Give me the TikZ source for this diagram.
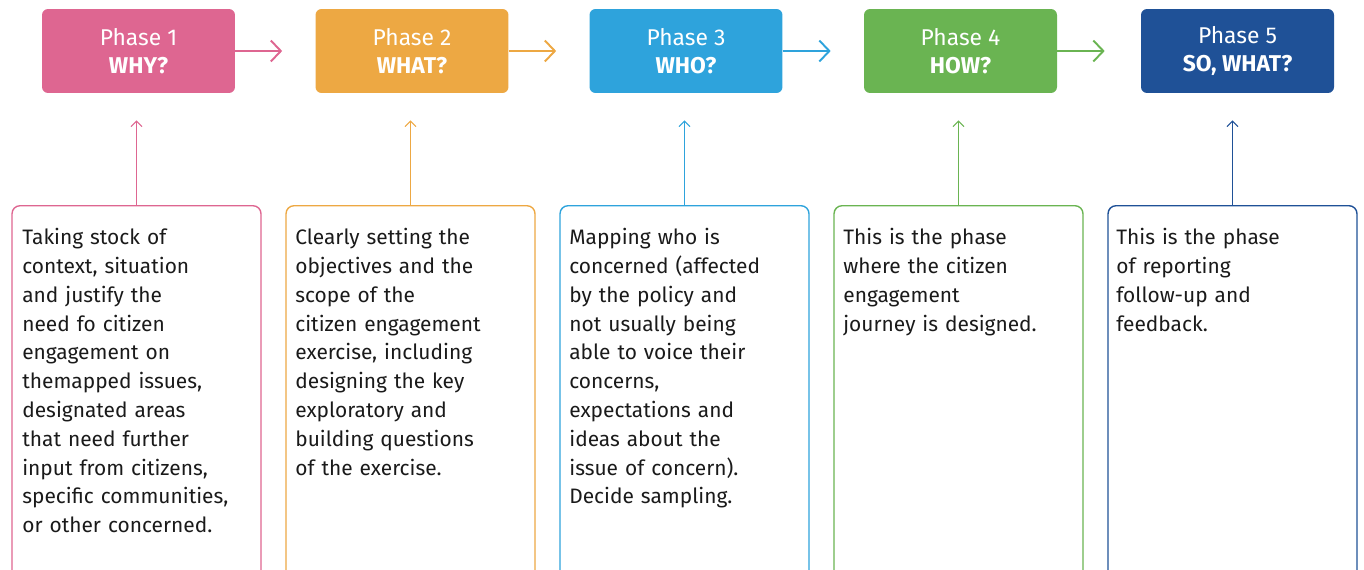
\documentclass[tikz,border=0pt]{standalone}
\usepackage{fontspec}
\setmainfont{Fira Sans}
\usetikzlibrary{arrows.meta,calc}
\definecolor{whycol}{HTML}{DE6691}
\definecolor{whatcol}{HTML}{EDA843}
\definecolor{whocol}{HTML}{2EA3DC}
\definecolor{howcol}{HTML}{6AB452}
\definecolor{socol}{HTML}{1F5197}
\definecolor{inkcol}{HTML}{1A1A1A}
\tikzset{
  phasebox/.style={rectangle, rounded corners=0.12cm, minimum width=3.86cm, minimum height=1.68cm, text=white, align=center, font=\fontsize{13}{15.9}\selectfont},
  notebox/.style={draw, rectangle, rounded corners=0.16cm, line width=0.8pt, minimum width=4.98cm, minimum height=8cm, anchor=north},
  notetext/.style={anchor=north west, inner sep=0pt, text width=4.7cm, align=left, text=inkcol, font=\fontsize{11.9}{16.4}\selectfont},
  flow/.style={-{Straight Barb[length=0.2cm,width=0.42cm]}, line width=1.1pt},
  link/.style={-{Straight Barb[length=0.11cm,width=0.22cm]}, line width=0.6pt}
}
\begin{document}
\begin{tikzpicture}[x=0.02cm, y=-0.02cm]
\useasboundingbox (0,0) rectangle (1364,569);
\clip (0,0) rectangle (1364,569);
% phases
\node[phasebox, fill=whycol] (p1) at (138.5,51) {Phase 1\\\textbf{WHY?}};
\node[phasebox, fill=whatcol] (p2) at (412,51) {Phase 2\\\textbf{WHAT?}};
\node[phasebox, fill=whocol] (p3) at (686,51) {Phase 3\\\textbf{WHO?}};
\node[phasebox, fill=howcol] (p4) at (960.5,51) {Phase 4\\\textbf{HOW?}};
\node[phasebox, fill=socol] (p5) at (1237.5,51) {Phase 5\\\textbf{SO, WHAT?}};
\draw[flow, whycol] (p1.east) -- ([xshift=-0.66cm]p2.west);
\draw[flow, whatcol] (p2.east) -- ([xshift=-0.66cm]p3.west);
\draw[flow, whocol] (p3.east) -- ([xshift=-0.66cm]p4.west);
\draw[flow, howcol] (p4.east) -- ([xshift=-0.72cm]p5.west);
% descriptions
\node[notebox, draw=whycol] (n1) at (136.5,205) {};
\node[notebox, draw=whatcol] (n2) at (410.5,205) {};
\node[notebox, draw=whocol] (n3) at (684.5,205) {};
\node[notebox, draw=howcol] (n4) at (958.5,205) {};
\node[notebox, draw=socol] (n5) at (1232.5,205) {};
\node[notetext] (t1) at (22,228) {Taking stock of\\context, situation\\and justify the\\need fo citizen\\engagement on\\themapped issues,\\designated areas\\that need further\\input from citizens,\\specific communities,\\or other concerned.};
\node[notetext] (t2) at (295,228) {Clearly setting the\\objectives and the\\scope of the\\citizen engagement\\exercise, including\\designing the key\\exploratory and\\building questions\\of the exercise.};
\node[notetext] (t3) at (569,228) {Mapping who is\\concerned (affected\\by the policy and\\not usually being\\able to voice their\\concerns,\\expectations and\\ideas about the\\issue of concern).\\Decide sampling.};
\node[notetext] (t4) at (843,228) {This is the phase\\where the citizen\\engagement\\journey is designed.};
\node[notetext] (t5) at (1116,228) {This is the phase\\of reporting\\follow-up and\\feedback.};
\draw[link, whycol] (n1.north) -- ($(p1.south -| n1.north)+(0,27)$);
\draw[link, whatcol] (n2.north) -- ($(p2.south -| n2.north)+(0,27)$);
\draw[link, whocol] (n3.north) -- ($(p3.south -| n3.north)+(0,27)$);
\draw[link, howcol] (n4.north) -- ($(p4.south -| n4.north)+(0,27)$);
\draw[link, socol] (n5.north) -- ($(p5.south -| n5.north)+(0,27)$);
\end{tikzpicture}
\end{document}
